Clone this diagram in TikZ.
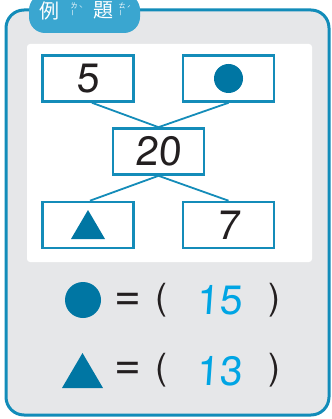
\documentclass[tikz,border=0pt]{standalone}
\usepackage{fontspec}
\setmainfont{TeX Gyre Heros}
\newfontfamily\cjk{Noto Sans CJK TC}
\newfontfamily\digits[FakeSlant=0.07]{TeX Gyre Heros}
\usetikzlibrary{calc}
\definecolor{frameblue}{RGB}{18,140,185}
\definecolor{tabblue}{RGB}{58,166,208}
\definecolor{bggray}{RGB}{230,231,233}
\definecolor{boxblue}{RGB}{20,140,185}
\definecolor{shapeblue}{RGB}{0,118,163}
\definecolor{ansblue}{RGB}{0,165,228}
\definecolor{ink}{RGB}{35,31,32}
\tikzset{
  numbox/.style={draw=boxblue, line width=2.6pt, fill=white, minimum width=91pt, minimum height=46pt, inner sep=0pt, font=\digits\fontsize{41}{41}\selectfont, text=ink},
  link/.style={draw=boxblue, line width=1.8pt},
  sym/.style={inner sep=0pt, font=\fontsize{36}{36}\selectfont, text=ink},
  eqs/.style={inner sep=0pt, font=\fontsize{46}{46}\selectfont, text=ink},
  ans/.style={inner sep=0pt, font=\digits\fontsize{41}{41}\selectfont, text=ansblue},
  ttl/.style={inner sep=0pt, text=white, font=\cjk\fontsize{20}{20}\selectfont},
  ruby/.style={inner sep=0pt, text=white, font=\cjk\fontsize{7}{7}\selectfont}
}
\begin{document}
\begin{tikzpicture}[x=1pt,y=-1pt]
\useasboundingbox (0,0) rectangle (331,419);
\clip (0,0) rectangle (331,419);
% frame
\draw[line width=3pt, draw=frameblue, fill=bggray, rounded corners=18pt] (6,10) rectangle (329,415);
\fill[white, rounded corners=3pt] (27,44) rectangle (312,262);
% tab
\fill[tabblue, rounded corners=16pt] (29,-6) rectangle (140,33);
\node[ttl] (t1) at (49,10.5) {例};
\node[ruby] (r1a) at (74,6) {ㄌ};
\node[ruby, rotate=90] (r1b) at (74,13) {ㄧ};
\node[ruby] (r1c) at (81,9) {ˋ};
\node[ttl] (t2) at (103,10.5) {題};
\node[ruby] (r2a) at (122,6) {ㄊ};
\node[ruby, rotate=90] (r2b) at (122,13) {ㄧ};
\node[ruby] (r2c) at (129,9) {ˊ};
% boxes
\node[numbox] (tl) at (88,78.5) {5};
\node[numbox] (tr) at (228.5,78.5) {};
\node[numbox] (m) at (158.5,151.5) {20};
\node[numbox] (bl) at (88,225) {};
\node[numbox] (br) at (228.5,225) {7};
\draw[link] ([xshift=4pt]tl.south) -- (m.north);
\draw[link] (tr.south) -- (m.north);
\draw[link] (m.south) -- ([xshift=2pt]bl.north);
\draw[link] (m.south) -- (br.north);
\fill[shapeblue] (tr.center) circle (14.5pt);
\fill[shapeblue] ($(bl.center)+(-17,14)$) -- ($(bl.center)+(17,14)$) -- ($(bl.center)+(0,-15)$) -- cycle;
% answers
\fill[shapeblue] (83,300) circle (18pt);
\node[eqs] (e1) at (128,302) {=};
\node[sym] (p1) at (161,300) {(};
\node[ans] (a1) at (219,300) {15};
\node[sym] (q1) at (274,300) {)};
\fill[shapeblue] (62,388) -- (103,388) -- (82.5,353) -- cycle;
\node[eqs] (e2) at (128,371) {=};
\node[sym] (p2) at (161,370) {(};
\node[ans] (a2) at (219,371) {13};
\node[sym] (q2) at (274,370) {)};
\end{tikzpicture}
\end{document}
